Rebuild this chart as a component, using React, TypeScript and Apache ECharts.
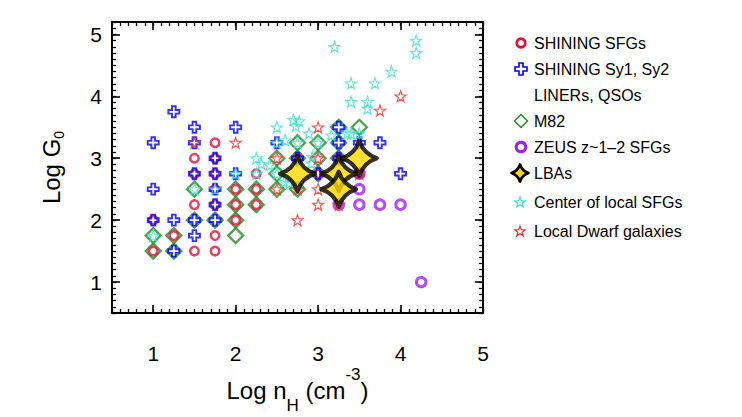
import React, { useEffect, useRef } from "react";
import * as echarts from "echarts";

// Axis tick labels
const xTicks = [1, 2, 3, 4, 5];
const yTicks = [1, 2, 3, 4, 5];

// [log nH, log G0] pairs for each sample
const shiningSFGs: number[][] = [
  [1, 2], [1, 1.5], [1.25, 1.75],
  [1.5, 3], [1.5, 2.75], [1.5, 2.25], [1.5, 1.5],
  [1.75, 3.25], [1.75, 3], [1.75, 2.75], [1.75, 2.5], [1.75, 2.25], [1.75, 1.75], [1.75, 1.5],
  [2, 2.5], [2, 2.25], [2, 2],
  [2.25, 2.75], [2.25, 2.5], [2.25, 2.25],
  [2.75, 3], [3, 2.75], [3.25, 3], [3.5, 2.75],
];

const shiningAGN: number[][] = [
  [1, 3.25], [1, 2.5], [1, 2],
  [1.25, 3.75], [1.25, 2], [1.25, 1.5],
  [1.5, 3.5], [1.5, 3.25], [1.5, 2.75], [1.5, 2], [1.5, 1.75],
  [1.75, 3], [1.75, 2.75], [1.75, 2.5], [1.75, 2.25], [1.75, 2],
  [2, 3.5], [2, 2.75], [2.5, 3.25], [2.75, 3], [3, 2.75],
  [3.25, 3.5], [3.25, 3.25], [3.25, 3], [3.5, 3.25], [3.75, 3.25], [4, 2.75],
];

const m82: number[][] = [
  [1, 1.75], [1, 1.5], [1.25, 1.75], [1.25, 1.5],
  [1.5, 2.5], [1.5, 2], [1.75, 2],
  [2, 2.5], [2, 2.25], [2, 2], [2, 1.75],
  [2.25, 2.5], [2.25, 2.25],
  [2.5, 3], [2.5, 2.75], [2.5, 2.5],
  [2.75, 3.25], [2.75, 3], [2.75, 2.5],
  [3, 3.25], [3, 3], [3, 2.75],
  [3.25, 3.5], [3.25, 3.25], [3.25, 3], [3.5, 3.5],
];

const zeus: number[][] = [
  [3.25, 2.25], [3.5, 2.75], [3.5, 2.5], [3.5, 2.25], [3.75, 2.25], [4, 2.25], [4.25, 1],
];

const lbas: number[][] = [
  [2.75, 2.75], [3.25, 2.75], [3.25, 2.5], [3.5, 3],
];

const centerSFGs: number[][] = [
  [1, 1.75], [1.5, 2.5], [1.75, 2.5], [2, 2.75],
  [2.25, 3], [2.25, 2.75], [2.31, 2.91], [2.41, 2.89],
  [2.5, 3.5], [2.5, 3.25], [2.6, 3.29], [2.5, 2.75], [2.59, 2.62], [2.65, 2.6],
  [2.7, 3.62], [2.77, 3.6], [2.73, 3.52], [2.75, 3.25],
  [2.89, 3.4], [2.93, 3.02], [2.92, 2.92], [3, 3.25], [3.16, 3.37], [3.35, 3.4],
  [3.4, 3.4], [3.5, 3.4],
  [3.2, 4.8], [3.4, 4.21], [3.69, 4.21], [3.89, 4.4], [4.19, 4.9], [4.19, 4.7],
  [3.4, 3.91], [3.6, 3.91], [3.6, 3.8],
];

const localDwarfs: number[][] = [
  [1.5, 3.25], [2, 3.25], [2.5, 3], [2.5, 2.5], [2.75, 2.5], [2.75, 2],
  [3, 3.5], [3, 3], [3, 2.5], [3, 2.25], [3.25, 2.25], [3.5, 2.75],
  [3.75, 3.77], [4, 4],
];

const FONT = '"Liberation Sans", Arial, Helvetica, sans-serif';

const RED = "#E0143C";
const BLUE = "#0000FF";
const GREEN = "#228B22";
const PURPLE = "#A020F0";
const CYAN = "#40E0D0";
const STAR_RED = "#FF2A2A";
const GOLD = "#FFD700";

// Symbol outlines
function starPoints(cx: number, cy: number, R: number, r: number): number[][] {
  const pts: number[][] = [];
  for (let i = 0; i < 10; i++) {
    const a = -Math.PI / 2 + (i * Math.PI) / 5;
    const rad = i % 2 === 0 ? R : r;
    pts.push([cx + rad * Math.cos(a), cy + rad * Math.sin(a)]);
  }
  return pts;
}
const toPath = (pts: number[][]) =>
  "M" + pts.map((p) => p[0].toFixed(3) + "," + p[1].toFixed(3)).join("L") + "Z";

const CROSS_UNIT = [
  [-1, -3], [1, -3], [1, -1], [3, -1], [3, 1], [1, 1],
  [1, 3], [-1, 3], [-1, 1], [-3, 1], [-3, -1], [-1, -1],
];
const STAR_SYMBOL = "path://" + toPath(starPoints(0, 0, 10, 4));
const CROSS_SYMBOL = "path://" + toPath(CROSS_UNIT);
const SPARKLE_D = "M0,-10Q2.4,-2.4,10,0Q2.4,2.4,0,10Q-2.4,2.4,-10,0Q-2.4,-2.4,0,-10Z";
const SPARKLE_SYMBOL = "path://" + SPARKLE_D;

echarts.graphic.registerShape("sparkle", echarts.graphic.extendPath(SPARKLE_D, {}));

const hollow = (color: string, width: number) => ({
  color: "rgba(0,0,0,0)",
  borderColor: color,
  borderWidth: width,
});

function legendItems() {
  const lx = 521;
  const tx = 534;
  const items: any[] = [];
  const text = (t: string, y: number) => ({
    type: "text",
    x: tx,
    y,
    silent: true,
    style: { text: t, fill: "#000", fontSize: 16, fontFamily: FONT, verticalAlign: "middle" },
  });
  items.push({
    type: "circle", silent: true,
    shape: { cx: lx, cy: 43, r: 4.3 },
    style: { fill: "none", stroke: RED, lineWidth: 2.8 },
  });
  items.push(text("SHINING SFGs", 43));
  items.push({
    type: "polygon", silent: true,
    shape: { points: CROSS_UNIT.map((p) => [lx + p[0] * 2, 69 + p[1] * 2]) },
    style: { fill: "none", stroke: BLUE, lineWidth: 1.6 },
  });
  items.push(text("SHINING Sy1, Sy2", 69));
  items.push(text("LINERs, QSOs", 95));
  items.push({
    type: "polygon", silent: true,
    shape: { points: [[lx, 121 - 6.5], [lx + 6.5, 121], [lx, 121 + 6.5], [lx - 6.5, 121]] },
    style: { fill: "none", stroke: GREEN, lineWidth: 1.5 },
  });
  items.push(text("M82", 121));
  items.push({
    type: "circle", silent: true,
    shape: { cx: lx, cy: 147, r: 4.8 },
    style: { fill: "none", stroke: PURPLE, lineWidth: 3 },
  });
  items.push(text("ZEUS z~1\u20132 SFGs", 147));
  items.push({
    type: "sparkle", silent: true,
    x: lx - 1, y: 173, scaleX: 0.85, scaleY: 0.85,
    style: { fill: GOLD, stroke: "#000", lineWidth: 3.2, lineJoin: "round" },
  });
  items.push(text("LBAs", 173));
  items.push({
    type: "polygon", silent: true,
    shape: { points: starPoints(lx - 1, 202.5, 5.5, 2.3) },
    style: { fill: "none", stroke: CYAN, lineWidth: 1.2 },
  });
  items.push(text("Center of local SFGs", 202));
  items.push({
    type: "polygon", silent: true,
    shape: { points: starPoints(lx - 1, 231.5, 5.5, 2.3) },
    style: { fill: "none", stroke: STAR_RED, lineWidth: 1.2 },
  });
  items.push(text("Local Dwarf galaxies", 231));
  return items;
}

const AXIS_BLACK = "#000";

function majorX(position: "bottom" | "top", labelled: boolean, extra: any = {}) {
  return {
    type: "value",
    position,
    min: 0.5,
    max: 5,
    axisLine: { show: true, onZero: false, lineStyle: { color: AXIS_BLACK, width: 2 } },
    axisTick: { show: true, inside: true, length: 8, customValues: xTicks, lineStyle: { color: AXIS_BLACK, width: 1.6 } },
    axisLabel: {
      show: labelled, customValues: xTicks, color: "#000", fontSize: 21, fontFamily: FONT, margin: 30,
    },
    splitLine: { show: false },
    ...extra,
  };
}
function minorX(position: "bottom" | "top") {
  return {
    type: "value",
    position,
    min: 0.5,
    max: 5,
    interval: 0.1,
    axisLine: { show: false, onZero: false },
    axisTick: { show: true, inside: true, length: 4, lineStyle: { color: AXIS_BLACK, width: 1.3 } },
    axisLabel: { show: false },
    splitLine: { show: false },
  };
}
function majorY(position: "left" | "right", labelled: boolean, extra: any = {}) {
  return {
    type: "value",
    position,
    min: 0.5,
    max: 5.2,
    axisLine: { show: true, onZero: false, lineStyle: { color: AXIS_BLACK, width: 2 } },
    axisTick: { show: true, inside: true, length: 8, customValues: yTicks, lineStyle: { color: AXIS_BLACK, width: 1.6 } },
    axisLabel: {
      show: labelled, customValues: yTicks, color: "#000", fontSize: 21, fontFamily: FONT, margin: 10,
    },
    splitLine: { show: false },
    ...extra,
  };
}
function minorY(position: "left" | "right") {
  return {
    type: "value",
    position,
    min: 0.5,
    max: 5.2,
    interval: 0.1,
    axisLine: { show: false, onZero: false },
    axisTick: { show: true, inside: true, length: 4, lineStyle: { color: AXIS_BLACK, width: 1.3 } },
    axisLabel: { show: false },
    splitLine: { show: false },
  };
}

export default function App() {
  const ref = useRef<HTMLDivElement>(null);

  useEffect(() => {
    if (!ref.current) return;
    const chart = echarts.init(ref.current, null, { renderer: "svg" });

    const xName = {
      name: "{n|Log n}{sub|H}{n| (cm}{sup|-3}{n|)}",
      nameLocation: "middle",
      nameGap: 53,
      nameMoveOverlap: false,
      nameTextStyle: {
        color: "#000",
        fontFamily: FONT,
        fontSize: 24,
        rich: {
          n: { fontSize: 24, fontFamily: FONT, color: "#000", lineHeight: 48 },
          sub: { fontSize: 17, fontFamily: FONT, color: "#000", lineHeight: 16, verticalAlign: "bottom" },
          sup: { fontSize: 17, fontFamily: FONT, color: "#000", lineHeight: 14, verticalAlign: "top" },
        },
      },
    };
    const yName = {
      name: "{n|Log G}{sub|0}",
      nameLocation: "middle",
      nameRotate: 90,
      nameGap: 46,
      nameMoveOverlap: false,
      nameTextStyle: {
        color: "#000",
        fontFamily: FONT,
        fontSize: 24,
        rich: {
          n: { fontSize: 24, fontFamily: FONT, color: "#000", lineHeight: 30 },
          sub: { fontSize: 14, fontFamily: FONT, color: "#000", lineHeight: 18, verticalAlign: "bottom" },
        },
      },
    };

    const common = { type: "scatter", xAxisIndex: 0, yAxisIndex: 0, silent: true, emphasis: { disabled: true } };

    chart.setOption({
      animation: false,
      backgroundColor: "#fff",
      textStyle: { fontFamily: FONT },
      grid: { left: 112, top: 22, width: 371, height: 291, containLabel: false, outerBoundsMode: "none" },
      xAxis: [majorX("bottom", true, xName), minorX("bottom"), majorX("top", false), minorX("top")],
      yAxis: [majorY("left", true, yName), minorY("left"), majorY("right", false), minorY("right")],
      series: [
        { ...common, name: "M82", data: m82, symbol: "diamond", symbolSize: 15, itemStyle: hollow(GREEN, 2.3) },
        { ...common, name: "SHINING SFGs", data: shiningSFGs, symbol: "circle", symbolSize: 8.5, itemStyle: hollow(RED, 2.5) },
        { ...common, name: "SHINING Sy1, Sy2", data: shiningAGN, symbol: CROSS_SYMBOL, symbolSize: 11, itemStyle: hollow(BLUE, 1.9) },
        { ...common, name: "ZEUS", data: zeus, symbol: "circle", symbolSize: 9.5, itemStyle: hollow(PURPLE, 3) },
        { ...common, name: "Center of local SFGs", data: centerSFGs, symbol: STAR_SYMBOL, symbolSize: 11, itemStyle: hollow(CYAN, 1.2) },
        { ...common, name: "Local Dwarf galaxies", data: localDwarfs, symbol: STAR_SYMBOL, symbolSize: 11, itemStyle: hollow(STAR_RED, 1.2) },
        {
          ...common, name: "LBAs", data: lbas, symbol: SPARKLE_SYMBOL, symbolSize: 35,
          itemStyle: { color: GOLD, borderColor: "#000", borderWidth: 4.2, borderJoin: "round" },
        },
      ],
      graphic: legendItems(),
    });

    return () => chart.dispose();
  }, []);

  return (
    <div
      ref={ref}
      style={{ position: "fixed", left: 0, top: 0, width: 742, height: 417, background: "#fff" }}
    />
  );
}
